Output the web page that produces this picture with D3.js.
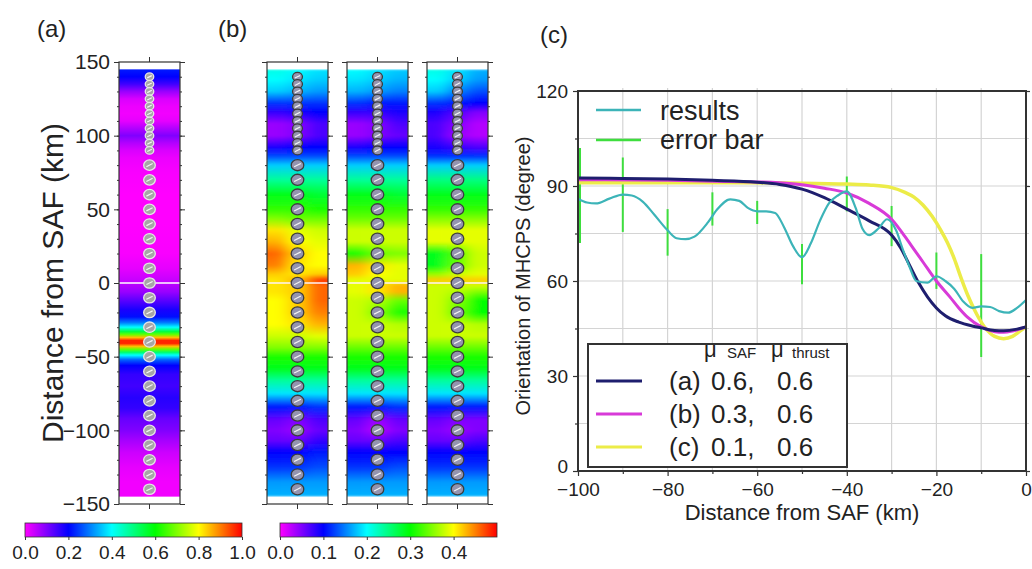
<!DOCTYPE html>
<html><head><meta charset="utf-8">
<script src="https://cdn.jsdelivr.net/npm/d3@7"></script>
<style>
html,body{margin:0;padding:0;background:#fff;}
svg{display:block;font-family:"Liberation Sans",Arial,Helvetica,sans-serif;}
</style></head><body>
<svg id="chart" width="1032" height="569"></svg>
<script>
// ---------------- DATA ----------------
// Panel (a): along-profile value (0..1), rows [km, value]
const profileA = [[145,.22],[140,.2],[135,.15],[130,.08],[125,.03],[120,.015],[115,.01],[110,.02],[105,.06],[100,.1],[95,.06],[90,.03],[85,.015],[75,.005],[60,0],[40,0],[20,.005],[10,.02],[0,.05],[-6,.08],[-12,.13],[-18,.18],[-23,.21],[-27,.3],[-30,.4],[-33,.55],[-35,.68],[-37,.85],[-39,.97],[-41,.97],[-43,.85],[-45,.68],[-47,.52],[-49,.4],[-52,.28],[-56,.2],[-62,.16],[-70,.15],[-78,.17],[-85,.16],[-92,.12],[-100,.1],[-107,.07],[-115,.04],[-125,.02],[-135,.01],[-145,.01]];

// Panel (b): three maps, rows [km, left, centre, right] (0..0.5)
const colB1 = [[145,.21,.2,.19],[138,.2,.19,.18],[130,.18,.17,.16],[122,.12,.12,.12],[116,.08,.09,.1],[108,.04,.05,.07],[100,.04,.05,.07],[92,.09,.1,.1],[86,.13,.13,.13],[80,.18,.18,.18],[70,.24,.24,.24],[60,.29,.29,.28],[50,.32,.32,.31],[44,.35,.34,.34],[36,.41,.39,.38],[28,.43,.4,.39],[20,.46,.42,.4],[12,.45,.41,.4],[6,.42,.41,.42],[2,.41,.43,.48],[-2,.41,.42,.46],[-6,.41,.42,.46],[-12,.4,.42,.46],[-20,.4,.42,.45],[-28,.4,.41,.43],[-36,.38,.38,.39],[-44,.35,.35,.35],[-50,.31,.31,.31],[-58,.29,.29,.29],[-66,.24,.24,.24],[-75,.19,.19,.19],[-84,.11,.11,.12],[-93,.06,.05,.07],[-100,.05,.04,.06],[-107,.06,.06,.08],[-115,.1,.1,.11],[-125,.12,.12,.13],[-135,.16,.16,.16],[-145,.17,.17,.17]];
const colB2 = [[145,.2,.19,.18],[138,.19,.18,.17],[130,.17,.16,.15],[122,.12,.11,.11],[116,.08,.08,.09],[108,.04,.05,.07],[100,.04,.05,.06],[92,.09,.1,.1],[86,.13,.13,.13],[80,.18,.18,.18],[70,.24,.24,.24],[60,.29,.29,.28],[50,.32,.32,.32],[44,.34,.34,.34],[36,.38,.38,.38],[28,.38,.38,.38],[20,.31,.34,.35],[12,.43,.41,.39],[6,.42,.4,.39],[2,.39,.39,.39],[-2,.39,.41,.43],[-6,.39,.41,.43],[-12,.38,.37,.34],[-20,.38,.35,.31],[-28,.38,.38,.37],[-36,.38,.38,.38],[-44,.34,.34,.34],[-50,.31,.31,.31],[-58,.29,.29,.29],[-66,.24,.24,.24],[-75,.19,.19,.19],[-84,.11,.11,.12],[-93,.06,.04,.06],[-100,.05,.03,.05],[-107,.06,.06,.07],[-115,.1,.1,.1],[-125,.12,.12,.13],[-135,.16,.16,.16],[-145,.17,.17,.17]];
const colB3 = [[145,.21,.19,.17],[138,.2,.18,.16],[130,.18,.15,.13],[122,.12,.11,.1],[116,.09,.07,.05],[108,.07,.05,.03],[100,.07,.04,.03],[92,.09,.08,.07],[86,.12,.12,.12],[80,.18,.18,.18],[70,.25,.25,.25],[60,.29,.29,.29],[50,.32,.32,.32],[44,.35,.35,.35],[36,.39,.39,.39],[28,.39,.39,.39],[20,.29,.33,.38],[12,.29,.34,.38],[6,.36,.38,.39],[2,.42,.42,.42],[-2,.38,.38,.38],[-6,.38,.37,.35],[-12,.38,.35,.3],[-20,.38,.34,.3],[-28,.38,.38,.37],[-36,.38,.38,.38],[-44,.34,.34,.34],[-50,.31,.31,.31],[-58,.29,.29,.29],[-66,.24,.24,.24],[-75,.19,.19,.19],[-84,.11,.11,.11],[-93,.06,.05,.05],[-100,.05,.04,.05],[-107,.06,.06,.07],[-115,.1,.1,.1],[-125,.12,.12,.12],[-135,.16,.16,.16],[-145,.17,.17,.17]];

// station positions (km along profile)
const stationsDense = [140,135,130,125,120,115,110,105,100,95,90];
const stationsSparse = [80,70,60,50,40,30,20,10,0,-10,-20,-30,-40,-50,-60,-70,-80,-90,-100,-110,-120,-130,-140];

const yTicksA = [150,100,50,0,-50,-100,-150];
const cbTicksA = [0,0.2,0.4,0.6,0.8,1.0];
const cbTicksB = [0,0.1,0.2,0.3,0.4];

// Panel (c)
const resultsKm  = [-100,-98,-96,-93,-90,-88,-85.5,-83,-80,-78,-76,-74,-71,-69,-66,-64,-62,-60,-58,-56,-54,-52,-50,-48,-46,-44,-42,-40,-38,-36.5,-35,-33,-31,-29,-27.5,-26,-24.5,-22,-20,-18,-16,-14,-12,-10,-8,-6,-4,-2,0];
const resultsDeg = [86,84.8,84.5,86,87.3,87,85,81,76,73.5,73.2,74,78.5,82.5,85.8,85.3,83,82,82,81.5,77,71,67.5,72,79,84.5,87,88.3,83,76.5,74.5,76.5,79.5,76,70,64.5,60,59.5,61.5,60,57.5,53.5,51.5,52,51.8,50.5,50,51.5,54];

const errKm = [-100,-90,-80,-70,-60,-50,-40,-30,-20,-10,0];
const errLo = [72,75.5,68,77.5,78,59,82,71,57.5,36,39.5];
const errHi = [102,99,82.7,88,85.3,71.7,93,83.7,69,68.5,68.5];

const modelAKm  = [-100,-90,-80,-70,-60,-55,-50,-45,-40,-35,-30,-28,-26,-24,-22,-20,-18,-15,-12,-10,-7,-5,-2,0];
const modelADeg = [92.5,92.4,92.2,91.8,91.2,90.5,89,86.3,82.7,79,74.5,70.5,65,59.5,55,51.5,49,47,45.8,45.2,44.4,44.3,44.8,45.5];
const modelBKm  = [-100,-80,-70,-60,-55,-50,-45,-40,-35,-30,-27,-25,-23,-20,-17,-15,-13,-10,-7,-5,-3,0];
const modelBDeg = [92,91.8,91.5,91.3,91,90.4,89.3,87.8,84.5,79.5,74,70,66,60,55,51.5,48.5,45.5,44,43.8,44.2,45.5];
const modelCKm  = [-100,-80,-60,-50,-40,-35,-30,-27,-25,-23,-21,-19,-17.5,-16,-14.5,-13,-11,-9,-7,-5,-3,-1.5,0];
const modelCDeg = [91,91,91,90.9,90.6,90.3,89.5,88,86.5,84,80.5,76,72,67,61,55.5,49.5,45,42.5,41.8,42.5,44,45.5];

const xTicksC = [-100,-80,-60,-40,-20,0];
const yTicksC = [0,30,60,90,120];
const legendRows = [["(a)","0.6,","0.6"],["(b)","0.3,","0.6"],["(c)","0.1,","0.6"]];
const legendColors = ["#1e1e6e","#d83ad8","#ecec48"];

// ---------------- DRAW ----------------
const svg = d3.select("#chart");
const defs = svg.append("defs");
const TXT = "#222", FRAME = "#333";

const rainbow = d3.scaleLinear().domain([0,.2,.4,.6,.8,1])
  .range(["#ff00ff","#0000ff","#00ffff","#00ff00","#ffff00","#ff0000"]).clamp(true);
const colA = v => rainbow(v);
const colB = v => rainbow(v/0.5);

const yK = d3.scaleLinear().domain([150,-150]).range([62,504]);

function gradient(id, rows, colorFn){
  const g = defs.append("linearGradient").attr("id",id)
    .attr("gradientUnits","userSpaceOnUse").attr("x1",0).attr("x2",0)
    .attr("y1",yK(145)).attr("y2",yK(-145));
  const span = yK(-145)-yK(145);
  rows.forEach(r=>{
    g.append("stop").attr("offset",(yK(r[0])-yK(145))/span).attr("stop-color",colorFn(r[1]));
  });
  return "url(#"+id+")";
}

const f = defs.append("filter").attr("id","hblur").attr("x","-0.3").attr("width","1.6").attr("y","-0.02").attr("height","1.04");
f.append("feGaussianBlur").attr("stdDeviation","7 1");

function frameAxes(x0,x1,withLabels){
  const g = svg.append("g");
  g.append("g").attr("transform",`translate(${x0},0)`)
    .call(d3.axisLeft(yK).tickValues(d3.range(-150,151,10)).tickSize(2).tickFormat(""))
    .call(s=>s.select(".domain").remove());
  g.append("g").attr("transform",`translate(${x1},0)`)
    .call(d3.axisRight(yK).tickValues(d3.range(-150,151,10)).tickSize(2).tickFormat(""))
    .call(s=>s.select(".domain").remove());
  const left = g.append("g").attr("transform",`translate(${x0},0)`)
    .call(d3.axisLeft(yK).tickValues(yTicksA).tickSize(5).tickPadding(4).tickFormat(withLabels?d3.format("d"):""));
  left.select(".domain").remove();
  left.selectAll("text").attr("font-size",21).attr("fill",TXT).attr("font-family","Liberation Sans, Arial, sans-serif");
  g.append("g").attr("transform",`translate(${x1},0)`)
    .call(d3.axisRight(yK).tickValues(yTicksA).tickSize(5).tickFormat(""))
    .call(s=>s.select(".domain").remove());
  g.selectAll("line").attr("stroke",FRAME);
  g.append("rect").attr("x",x0).attr("y",yK(150)).attr("width",x1-x0).attr("height",yK(-150)-yK(150))
    .attr("fill","none").attr("stroke",FRAME).attr("stroke-width",1.2);
  const cx=(x0+x1)/2;
  g.append("line").attr("x1",cx).attr("x2",cx).attr("y1",yK(150)).attr("y2",yK(150)-5).attr("stroke",FRAME);
  g.append("line").attr("x1",cx).attr("x2",cx).attr("y1",yK(-150)).attr("y2",yK(-150)+5).attr("stroke",FRAME);
}

function stations(x0,x1,fill,stroke,rD,rS){
  const cx=(x0+x1)/2;
  const g = svg.append("g");
  const all = stationsDense.map(k=>({k,r:rD})).concat(stationsSparse.map(k=>({k,r:rS})));
  g.selectAll("ellipse").data(all).join("ellipse")
    .attr("cx",cx).attr("cy",d=>yK(d.k)).attr("rx",d=>d.r*1.12).attr("ry",d=>d.r)
    .attr("fill",fill).attr("stroke",stroke).attr("stroke-width",1.3);
  g.selectAll("line").data(all).join("line")
    .attr("x1",d=>cx-d.r*0.6).attr("x2",d=>cx+d.r*0.6)
    .attr("y1",d=>yK(d.k)+d.r*0.3).attr("y2",d=>yK(d.k)-d.r*0.3)
    .attr("stroke","#f4f4f4").attr("stroke-width",1.2);
}

// ---- Panel (a)
const ax0=119, ax1=180;
svg.append("rect").attr("x",ax0).attr("y",yK(145)).attr("width",ax1-ax0).attr("height",yK(-145)-yK(145))
  .attr("fill",gradient("gA",profileA,colA));
svg.append("line").attr("x1",ax0).attr("x2",ax1).attr("y1",yK(0)).attr("y2",yK(0)).attr("stroke","#fff").attr("stroke-width",1.5);
frameAxes(ax0,ax1,true);
stations(ax0,ax1,"#a6a6a6","#e6e6e6",3.8,5.2);

svg.append("text").attr("transform",`translate(63,${yK(0)}) rotate(-90)`).attr("text-anchor","middle")
  .attr("font-size",30).attr("fill",TXT).text("Distance from SAF (km)");

// ---- Panel (b)
const bCols = [{x0:267,x1:328,rows:colB1},{x0:347,x1:408,rows:colB2},{x0:427,x1:488,rows:colB3}];
bCols.forEach((c,i)=>{
  const w=c.x1-c.x0;
  const clipId="clipB"+i;
  defs.append("clipPath").attr("id",clipId).append("rect")
    .attr("x",c.x0).attr("y",yK(145)).attr("width",w).attr("height",yK(-145)-yK(145));
  const outer = svg.append("g").attr("clip-path",`url(#${clipId})`);
  const inner = outer.append("g").attr("filter","url(#hblur)");
  [0,1,2].forEach(s=>{
    const rows = c.rows.map(r=>[r[0],r[1+s]]);
    const ext = 18;
    const xs = c.x0 + s*w/3 - (s===0?ext:0);
    const ws = w/3 + (s===0||s===2?ext:0) + 0.5;
    inner.append("rect").attr("x",xs).attr("y",yK(145)).attr("width",ws).attr("height",yK(-145)-yK(145))
      .attr("fill",gradient(`gB${i}_${s}`,rows,colB));
  });
  svg.append("line").attr("x1",c.x0).attr("x2",c.x1).attr("y1",yK(0)).attr("y2",yK(0)).attr("stroke","#fff3f3").attr("stroke-width",1.5);
  frameAxes(c.x0,c.x1,false);
  stations(c.x0,c.x1,"#9494b0","#3c3c3c",4.4,5.6);
});

// ---- colour bars
function colorbar(id,x0,x1,maxV,ticks){
  const sc = d3.scaleLinear().domain([0,maxV]).range([x0,x1]);
  const g = defs.append("linearGradient").attr("id",id);
  d3.range(0,1.0001,0.05).forEach(t=>g.append("stop").attr("offset",t).attr("stop-color",rainbow(t)));
  svg.append("rect").attr("x",x0).attr("y",523).attr("width",x1-x0).attr("height",14)
    .attr("fill",`url(#${id})`).attr("stroke",FRAME).attr("stroke-width",0.8);
  const a = svg.append("g").attr("transform","translate(0,537)")
    .call(d3.axisBottom(sc).tickValues(ticks).tickSize(3).tickPadding(6).tickFormat(d3.format(".1f")));
  a.select(".domain").remove();
  a.selectAll("line").attr("stroke",FRAME);
  a.selectAll("text").attr("font-size",19).attr("fill",TXT).attr("font-family","Liberation Sans, Arial, sans-serif");
}
colorbar("cbA",25,242,1.0,cbTicksA);
colorbar("cbB",280,497,0.5,cbTicksB);

// ---- panel labels
svg.append("text").attr("x",37).attr("y",37).attr("font-size",24).attr("fill",TXT).text("(a)");
svg.append("text").attr("x",218).attr("y",37).attr("font-size",24).attr("fill",TXT).text("(b)");
svg.append("text").attr("x",540).attr("y",43).attr("font-size",24).attr("fill",TXT).text("(c)");

// ---- Panel (c)
const xC = d3.scaleLinear().domain([-100,0]).range([578,1026]);
const yC = d3.scaleLinear().domain([0,120]).range([471,91]);
const gc = svg.append("g");
gc.append("g").selectAll("line").data(d3.range(-90,0,10)).join("line")
  .attr("x1",d=>xC(d)).attr("x2",d=>xC(d)).attr("y1",yC(0)).attr("y2",yC(120)-3)
  .attr("stroke","#d4d4d4").attr("stroke-width",1.2);
gc.append("g").selectAll("line").data(d3.range(15,120,15)).join("line")
  .attr("x1",xC(-100)).attr("x2",xC(0)+3).attr("y1",d=>yC(d)).attr("y2",d=>yC(d))
  .attr("stroke","#d4d4d4").attr("stroke-width",1.2);

gc.append("g").selectAll("line").data(errKm).join("line")
  .attr("x1",(d,i)=>xC(d)+(i===0?2:0)).attr("x2",(d,i)=>xC(d)+(i===0?2:0))
  .attr("y1",(d,i)=>yC(errLo[i])).attr("y2",(d,i)=>yC(errHi[i]))
  .attr("stroke","#3ede3e").attr("stroke-width",2);

const lineGen = (ks,vs)=> d3.line().x((d,i)=>xC(ks[i])).y(d=>yC(d)).curve(d3.curveMonotoneX)(vs);
gc.append("path").attr("d",lineGen(modelCKm,modelCDeg)).attr("fill","none").attr("stroke",legendColors[2]).attr("stroke-width",3.5);
gc.append("path").attr("d",lineGen(modelBKm,modelBDeg)).attr("fill","none").attr("stroke",legendColors[1]).attr("stroke-width",3);
gc.append("path").attr("d",lineGen(modelAKm,modelADeg)).attr("fill","none").attr("stroke",legendColors[0]).attr("stroke-width",3);
gc.append("path").attr("d",lineGen(resultsKm,resultsDeg)).attr("fill","none").attr("stroke","#3cb4b8").attr("stroke-width",2.2);

gc.append("g").attr("transform",`translate(0,${yC(0)})`)
  .call(d3.axisBottom(xC).tickValues(xTicksC).tickSize(5).tickPadding(7).tickFormat(d3.format("d")));
const axL = gc.append("g").attr("transform",`translate(${xC(-100)},0)`)
  .call(d3.axisLeft(yC).tickValues(yTicksC).tickSize(5).tickPadding(5).tickFormat(d3.format("d")));
gc.append("g").attr("transform",`translate(0,${yC(0)})`)
  .call(d3.axisBottom(xC).tickValues(d3.range(-90,0,20)).tickSize(3).tickFormat(""));
gc.append("g").attr("transform",`translate(${xC(-100)},0)`)
  .call(d3.axisLeft(yC).tickValues(d3.range(15,120,30)).tickSize(3).tickFormat(""));
gc.append("g").attr("transform",`translate(${xC(0)},0)`)
  .call(d3.axisRight(yC).tickValues(yTicksC).tickSize(4).tickFormat(""));
gc.selectAll(".domain").remove();
gc.selectAll(".tick line").attr("stroke",FRAME).attr("stroke-width",1.2);
gc.selectAll(".tick text").attr("font-size",19).attr("fill",TXT).attr("font-family","Liberation Sans, Arial, sans-serif");
axL.selectAll(".tick text").filter(d=>d===0).attr("dy","0.1em");
gc.append("rect").attr("x",xC(-100)).attr("y",yC(120)).attr("width",xC(0)-xC(-100)).attr("height",yC(0)-yC(120))
  .attr("fill","none").attr("stroke",FRAME).attr("stroke-width",2);

svg.append("text").attr("x",802).attr("y",520).attr("text-anchor","middle").attr("font-size",22).attr("fill",TXT)
  .text("Distance from SAF (km)");
svg.append("text").attr("transform",`translate(530,${yC(60)-5}) rotate(-90)`).attr("text-anchor","middle")
  .attr("font-size",20).attr("fill",TXT).text("Orientation of MHCPS (degree)");

const tl = svg.append("g");
tl.append("line").attr("x1",596).attr("x2",641).attr("y1",110).attr("y2",110).attr("stroke","#3cb4b8").attr("stroke-width",2.5);
tl.append("line").attr("x1",596).attr("x2",641).attr("y1",140).attr("y2",140).attr("stroke","#3ede3e").attr("stroke-width",2.5);
tl.append("text").attr("x",660).attr("y",120).attr("font-size",27).attr("fill",TXT).text("results");
tl.append("text").attr("x",660).attr("y",149).attr("font-size",27).attr("fill",TXT).text("error bar");

const lg = svg.append("g");
lg.append("rect").attr("x",588).attr("y",344).attr("width",259).attr("height",123)
  .attr("fill","#fff").attr("stroke",FRAME).attr("stroke-width",2);
lg.append("text").attr("x",704).attr("y",357).attr("font-size",22).attr("fill",TXT).text("μ");
lg.append("text").attr("x",727).attr("y",358).attr("font-size",15).attr("fill",TXT).text("SAF");
lg.append("text").attr("x",771).attr("y",357).attr("font-size",22).attr("fill",TXT).text("μ");
lg.append("text").attr("x",792).attr("y",358).attr("font-size",15).attr("fill",TXT).text("thrust");
legendRows.forEach((r,i)=>{
  const yy = 381 + i*33;
  lg.append("line").attr("x1",596).attr("x2",642).attr("y1",yy).attr("y2",yy)
    .attr("stroke",legendColors[i]).attr("stroke-width",3);
  lg.append("text").attr("x",669).attr("y",yy+9).attr("font-size",26).attr("fill",TXT).text(r[0]);
  lg.append("text").attr("x",711).attr("y",yy+9).attr("font-size",26).attr("fill",TXT).text(r[1]);
  lg.append("text").attr("x",777).attr("y",yy+9).attr("font-size",26).attr("fill",TXT).text(r[2]);
});
</script>
</body></html>
